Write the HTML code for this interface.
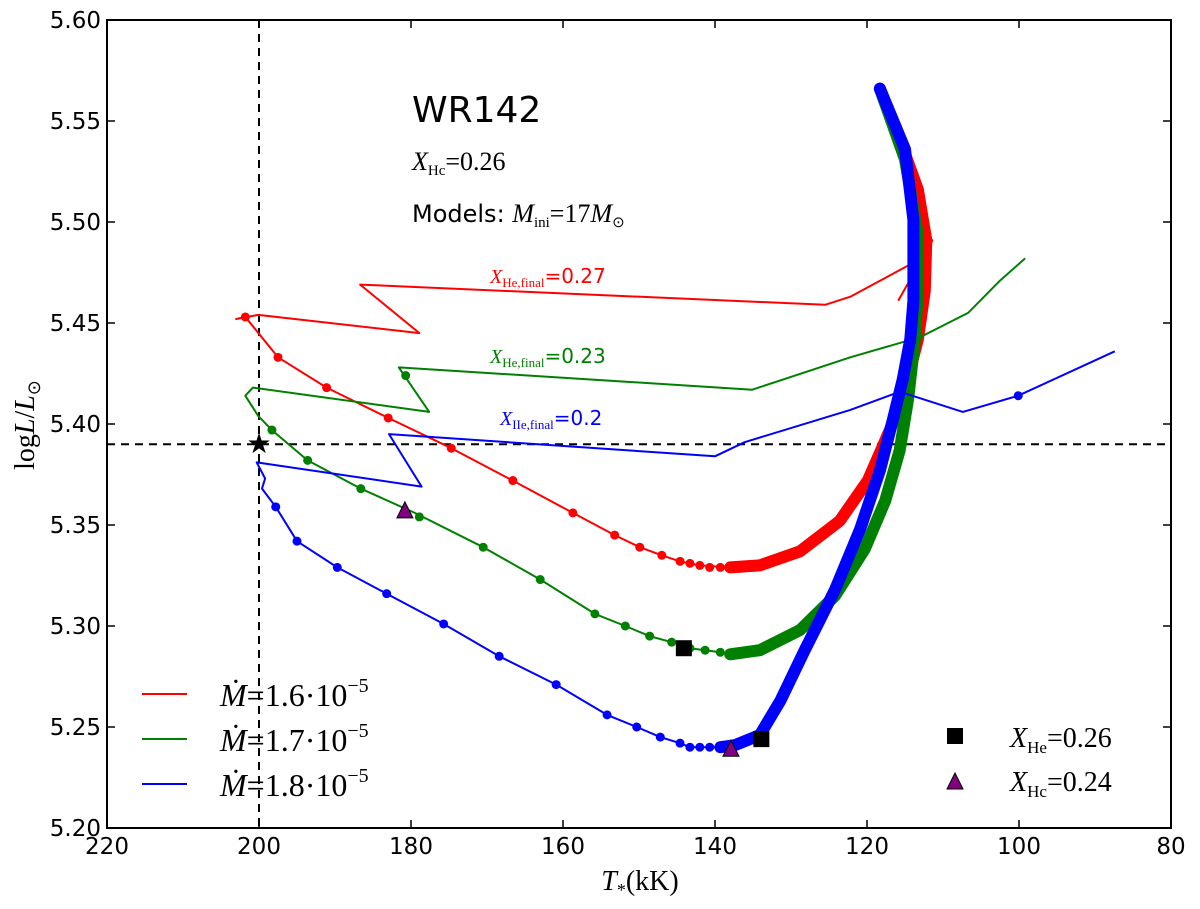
<!DOCTYPE html>
<html><head><meta charset="utf-8"><style>
html,body{margin:0;padding:0;background:#fff;}
svg text{font-family:"DejaVu Sans","Liberation Sans",sans-serif;}
.m{font-family:"Liberation Serif",serif;}
</style></head><body>
<svg id="chart" width="1200" height="904" viewBox="0 0 1200 904" xmlns="http://www.w3.org/2000/svg">
<g id="plot"></g>
</svg>
<script>
// ---- data ----
const xTicks = [220,200,180,160,140,120,100,80];
const yTicks = [5.20,5.25,5.30,5.35,5.40,5.45,5.50,5.55,5.60];
// red track (thick band first, then thin track)
const redBandT = [118.3,115.7,113.3,112.2,112.4,113.3,115.0,117.0,119.9,123.6,128.8,134.1,138.0];
const redBandL = [5.566,5.541,5.516,5.491,5.466,5.442,5.417,5.397,5.372,5.352,5.337,5.330,5.329];
const redThinT = [138.0,142.0,144.6,147.0,149.9,153.2,158.7,166.6,174.7,183.0,191.1,197.5,201.8,203.0,200.1,178.9,186.7,125.5,122.2,114.3,111.4,115.9];
const redThinL = [5.329,5.330,5.332,5.335,5.339,5.345,5.356,5.372,5.388,5.403,5.418,5.433,5.453,5.452,5.454,5.445,5.469,5.459,5.463,5.479,5.491,5.461];
const redDotT = [201.8,197.5,191.1,183.0,174.7,166.6,158.7,153.2,149.9,147.0,144.6,143.3,142.0,140.7,139.3,138.0];
const redDotL = [5.453,5.433,5.418,5.403,5.388,5.372,5.356,5.345,5.339,5.335,5.332,5.331,5.330,5.329,5.329,5.329];
// green track
const greenBandT = [118.3,115.0,113.4,113.3,113.7,114.6,115.7,117.6,120.3,124.2,128.8,134.1,138.0];
const greenBandL = [5.566,5.531,5.496,5.466,5.442,5.412,5.387,5.362,5.338,5.315,5.298,5.288,5.286];
const greenThinT = [138.0,139.3,141.3,143.3,145.7,148.6,151.8,155.8,163.0,170.5,179.5,186.6,193.6,198.3,200.1,201.8,200.8,177.6,181.6,135.1,122.2,113.0,106.7,102.5,99.2];
const greenThinL = [5.286,5.287,5.288,5.289,5.292,5.295,5.300,5.306,5.323,5.339,5.356,5.368,5.382,5.397,5.404,5.414,5.418,5.406,5.428,5.417,5.433,5.443,5.455,5.471,5.482];
const greenDotT = [198.3,193.6,186.6,180.7,178.9,170.5,163.0,155.8,151.8,148.6,145.7,143.3,141.3,139.3];
const greenDotL = [5.397,5.382,5.368,5.424,5.354,5.339,5.323,5.306,5.300,5.295,5.292,5.289,5.288,5.287];
// blue track
const blueBandT = [118.3,115.0,113.9,113.9,114.3,115.3,116.6,118.3,120.9,124.2,128.2,131.4,134.1,137.4,139.3];
const blueBandL = [5.566,5.536,5.501,5.461,5.442,5.422,5.402,5.377,5.348,5.318,5.288,5.263,5.246,5.241,5.240];
const blueThinT = [139.3,140.7,142.0,143.3,144.6,147.2,150.3,154.2,160.9,168.4,175.7,183.2,189.7,195.0,197.8,199.6,199.2,200.3,178.6,182.9,140.0,136.1,122.2,115.7,107.4,100.1,87.4];
const blueThinL = [5.240,5.240,5.240,5.240,5.242,5.245,5.250,5.256,5.271,5.285,5.301,5.316,5.329,5.342,5.359,5.368,5.373,5.381,5.369,5.395,5.384,5.391,5.407,5.416,5.406,5.414,5.436];
const blueDotT = [118.3,197.8,195.0,189.7,183.2,175.7,168.4,160.9,154.2,150.3,147.2,144.6,143.3,142.0,140.7,100.1];
const blueDotL = [5.566,5.359,5.342,5.329,5.316,5.301,5.285,5.271,5.256,5.250,5.245,5.242,5.240,5.240,5.240,5.414];
const squareT = [144.1,133.9];
const squareL = [5.289,5.244];
const triT = [180.8,137.9];
const triL = [5.357,5.239];
const starT = [200];
const starL = [5.39];
const refT = 200, refL = 5.39;

// ---- axes ----
const X0=107, X1=1171, Y0=828, Y1=20;
const sx = t => X0 + (220 - t) / 140 * (X1 - X0);
const sy = l => Y0 - (l - 5.20) / 0.40 * (Y0 - Y1);
const NS='http://www.w3.org/2000/svg';
const g=document.getElementById('plot');
function mk(tag, attrs, parent){const e=document.createElementNS(NS,tag);for(const k in attrs)e.setAttribute(k,attrs[k]);(parent||g).appendChild(e);return e;}
function pts(T,L){return T.map((t,i)=>sx(t).toFixed(1)+','+sy(L[i]).toFixed(1)).join(' ');}

let e;
e=mk('line',{x1:sx(refT),x2:sx(refT),y1:Y1,y2:Y0,stroke:'#000','stroke-width':2,'stroke-dasharray':'8,6'});


e=mk('line',{x1:X0,x2:X1,y1:sy(refL),y2:sy(refL),stroke:'#000','stroke-width':2,'stroke-dasharray':'8,6'});



function track(name,color,bT,bL,tT,tL,dT,dL){
  let p=mk('polyline',{points:pts(tT,tL),fill:'none',stroke:color,'stroke-width':2,'stroke-linejoin':'round'});
  
  
  let b=mk('polyline',{points:pts(bT,bL),fill:'none',stroke:color,'stroke-width':12,'stroke-linejoin':'round','stroke-linecap':'round'});
  
  
  dT.forEach((t,i)=>{
    const c=mk('circle',{cx:sx(t),cy:sy(dL[i]),r:4.5,fill:color});
    
    
  });
}
track('red','#ff0000',redBandT,redBandL,redThinT,redThinL,redDotT,redDotL);
track('green','#008000',greenBandT,greenBandL,greenThinT,greenThinL,greenDotT,greenDotL);
track('blue','#0000ff',blueBandT,blueBandL,blueThinT,blueThinL,blueDotT,blueDotL);

squareT.forEach((t,i)=>{
  const s=mk('rect',{x:sx(t)-8,y:sy(squareL[i])-8,width:16,height:16,fill:'#000'});
  
  
});
triT.forEach((t,i)=>{
  const x=sx(t),y=sy(triL[i]);
  const s=mk('polygon',{points:`${x},${y-9} ${x-8},${y+7} ${x+8},${y+7}`,fill:'#800080',stroke:'#000','stroke-width':1});
  
  
});
starT.forEach((t,i)=>{
  const s=mk('text',{x:sx(t),y:sy(starL[i])+9,'text-anchor':'middle','font-size':28,fill:'#000'});
  s.textContent='★';
  
  
});

e=mk('rect',{x:X0,y:Y1,width:X1-X0,height:Y0-Y1,fill:'none',stroke:'#000','stroke-width':2});



xTicks.forEach(t=>{
  const x=sx(t);
  let l=mk('line',{x1:x,x2:x,y1:Y0,y2:Y0-8,stroke:'#000','stroke-width':1.5});
  
  
  l=mk('line',{x1:x,x2:x,y1:Y1,y2:Y1+8,stroke:'#000','stroke-width':1.5});
  
  
  const tx=mk('text',{x:x,y:Y0+26,'text-anchor':'middle','font-size':23,fill:'#000'});
  tx.textContent=String(t);
  
  
});
yTicks.forEach(v=>{
  const y=sy(v);
  let l=mk('line',{x1:X0,x2:X0+8,y1:y,y2:y,stroke:'#000','stroke-width':1.5});
  
  
  l=mk('line',{x1:X1,x2:X1-8,y1:y,y2:y,stroke:'#000','stroke-width':1.5});
  
  
  const tx=mk('text',{x:X0-6,y:y+8,'text-anchor':'end','font-size':23,fill:'#000'});
  tx.textContent=v.toFixed(2);
  
  
});
</script>
<svg style="position:absolute;left:0;top:0" width="1200" height="904">
<text x="640" y="890" text-anchor="middle" font-size="28" class="m"><tspan font-style="italic">T</tspan><tspan font-size="18" dy="6">*</tspan><tspan dy="-6">(kK)</tspan></text>
<text transform="translate(34,425) rotate(-90)" text-anchor="middle" font-size="28" class="m">log<tspan font-style="italic">L</tspan>/<tspan font-style="italic">L</tspan><tspan font-size="18" dy="6">⊙</tspan></text>
<text x="412" y="122" font-size="36">WR142</text>
<text x="412" y="170" font-size="26" class="m"><tspan font-style="italic">X</tspan><tspan font-size="15" dy="5">Hc</tspan><tspan dy="-5">=0.26</tspan></text>
<text x="412" y="222" font-size="24">Models: <tspan class="m" font-size="26" font-style="italic">M</tspan><tspan class="m" font-size="15" dy="5">ini</tspan><tspan class="m" font-size="26" dy="-5">=17</tspan><tspan class="m" font-size="26" font-style="italic">M</tspan><tspan class="m" font-size="15" dy="5">⊙</tspan></text>
<text x="490" y="283" font-size="20" fill="#ff0000"><tspan class="m" font-style="italic">X</tspan><tspan class="m" font-size="13" dy="4">He,final</tspan><tspan dy="-4">=0.27</tspan></text>
<text x="490" y="363" font-size="20" fill="#008000"><tspan class="m" font-style="italic">X</tspan><tspan class="m" font-size="13" dy="4">He,final</tspan><tspan dy="-4">=0.23</tspan></text>
<text x="500" y="425" font-size="20" fill="#0000ff"><tspan class="m" font-style="italic">X</tspan><tspan class="m" font-size="13" dy="4">IIe,final</tspan><tspan dy="-4">=0.2</tspan></text>
<g>
<line x1="142" x2="187" y1="694" y2="694" stroke="#ff0000" stroke-width="2"/>
<text x="220" y="706" font-size="32" class="m"><tspan font-style="italic">Ṁ</tspan>=1.6·10<tspan font-size="20" dy="-14">−5</tspan></text>
<line x1="142" x2="187" y1="739" y2="739" stroke="#008000" stroke-width="2"/>
<text x="220" y="751" font-size="32" class="m"><tspan font-style="italic">Ṁ</tspan>=1.7·10<tspan font-size="20" dy="-14">−5</tspan></text>
<line x1="142" x2="187" y1="784" y2="784" stroke="#0000ff" stroke-width="2"/>
<text x="220" y="796" font-size="32" class="m"><tspan font-style="italic">Ṁ</tspan>=1.8·10<tspan font-size="20" dy="-14">−5</tspan></text>
</g>
<g>
<rect x="947" y="728" width="16" height="16" fill="#000"/>
<text x="1010" y="747" font-size="28" class="m"><tspan font-style="italic">X</tspan><tspan font-size="17" dy="6">He</tspan><tspan dy="-6">=0.26</tspan></text>
<polygon points="955,773 947,789 963,789" fill="#800080" stroke="#000" stroke-width="1"/>
<text x="1010" y="791" font-size="28" class="m"><tspan font-style="italic">X</tspan><tspan font-size="17" dy="6">Hc</tspan><tspan dy="-6">=0.24</tspan></text>
</g>
</svg>
</body></html>
